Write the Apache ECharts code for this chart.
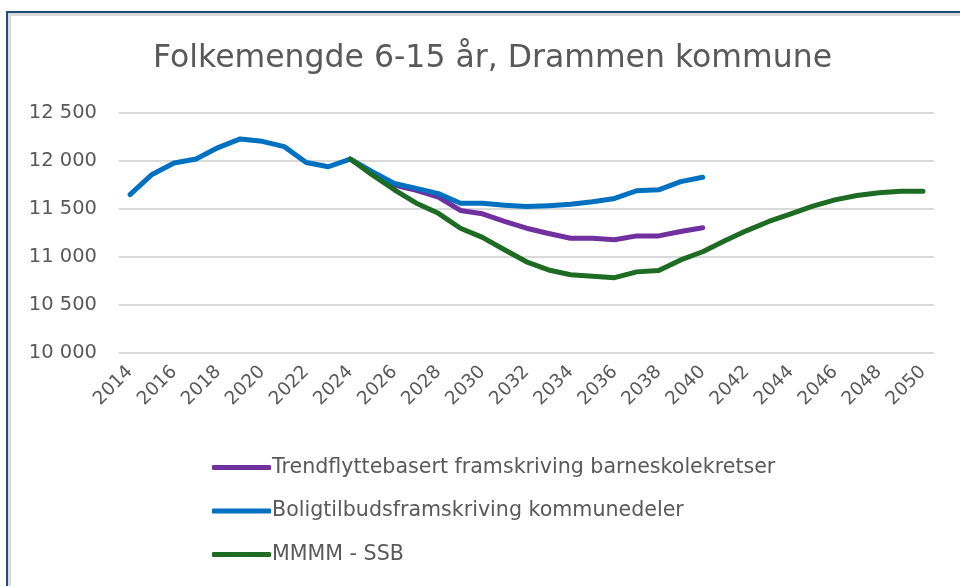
<!DOCTYPE html>
<html>
<head>
<meta charset="utf-8">
<script src="https://cdn.jsdelivr.net/npm/echarts@6/dist/echarts.min.js"></script>
<style>html,body{margin:0;padding:0;background:#fff;}#c{width:960px;height:586px;}</style>
</head>
<body>
<div id="c"></div>
<script>
const titleText = 'Folkemengde 6-15 år, Drammen kommune';
const years = [];
for (let y = 2014; y <= 2050; y++) years.push(String(y));
const seriesNames = ['Trendflyttebasert framskriving barneskolekretser', 'Boligtilbudsframskriving kommunedeler', 'MMMM - SSB'];
const trendValues = [null,null,null,null,null,null,null,null,null,null,
  12020, 11880, 11750, 11695, 11625, 11485, 11450, 11370, 11300, 11245, 11195, 11195, 11180, 11220, 11220, 11265, 11305];
const boligValues = [11650, 11860, 11980, 12020, 12140, 12230, 12205, 12150, 11985, 11940,
  12020, 11890, 11765, 11715, 11660, 11560, 11560, 11540, 11525, 11535, 11550, 11575, 11610, 11690, 11700, 11785, 11830];
const ssbValues = [null,null,null,null,null,null,null,null,null,null,
  12020, 11855, 11700, 11560, 11455, 11300, 11205, 11075, 10950, 10865, 10815, 10800, 10785, 10845, 10860, 10970, 11055,
  11170, 11275, 11370, 11450, 11530, 11595, 11640, 11670, 11685, 11685];
const colors = ['#7030a0', '#0070c0', '#1e6b24'];
const FONT = 'DejaVu Sans';

const chart = echarts.init(document.getElementById('c'), null, {renderer: 'canvas'});
const mk = (name, data, color) => ({
  name, type: 'line', data, showSymbol: false, symbol: 'none',
  lineStyle: {color, width: 5, cap: 'round', join: 'round'},
  itemStyle: {color}, connectNulls: false, animation: false
});
chart.setOption({
  animation: false,
  backgroundColor: '#fff',
  title: {
    text: titleText, left: 148, top: 38,
    textStyle: {fontFamily: FONT, fontSize: 31.5, fontWeight: 'normal', color: '#595959'}
  },
  grid: {left: 119, right: 26, top: 113, bottom: 233, containLabel: false},
  xAxis: {
    type: 'category', data: years, boundaryGap: true,
    axisLine: {show: false}, axisTick: {show: false},
    axisLabel: {interval: 1, rotate: 45, margin: 16, color: '#595959', fontFamily: FONT, fontSize: 18.5}
  },
  yAxis: {
    type: 'value', min: 10000, max: 12500, interval: 500,
    axisLine: {show: false}, axisTick: {show: false},
    splitLine: {lineStyle: {color: '#d9d9d9', width: 2}},
    axisLabel: {
      margin: 22, color: '#595959', fontFamily: FONT, fontSize: 19.5,
      formatter: v => String(v).replace(/\B(?=(\d{3})+(?!\d))/g, ' ')
    }
  },
  legend: {
    orient: 'vertical', left: 207, top: 452, itemWidth: 59, itemHeight: 5, itemGap: 22.5,
    icon: 'roundRect',
    textStyle: {fontFamily: FONT, fontSize: 20.6, color: '#595959', padding: [0, 0, 0, -4]},
    data: seriesNames
  },
  graphic: [
    {type: 'rect', shape: {x: 9.5, y: 14.5, width: 960, height: 600}, style: {fill: 'none', stroke: '#d9d9d9', lineWidth: 3}, silent: true, z: 0},
    {type: 'rect', shape: {x: 7, y: 12, width: 960, height: 600}, style: {fill: 'none', stroke: '#1f4e79', lineWidth: 2}, silent: true, z: 1}
  ],
  series: [
    mk(seriesNames[0], trendValues, colors[0]),
    mk(seriesNames[1], boligValues, colors[1]),
    mk(seriesNames[2], ssbValues, colors[2])
  ]
});
</script>
</body>
</html>
